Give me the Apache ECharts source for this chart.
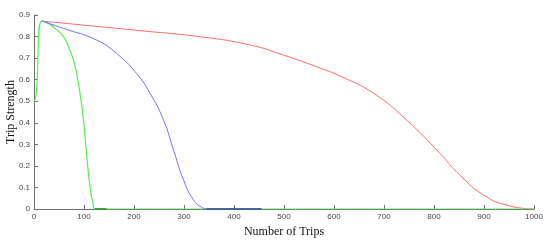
<!DOCTYPE html>
<html>
<head>
<meta charset="utf-8">
<script src="https://cdn.jsdelivr.net/npm/echarts@6/dist/echarts.min.js"></script>
<style>
  html, body { margin: 0; padding: 0; background: #fff; }
  #chart { width: 550px; height: 242px; }
</style>
</head>
<body>
<div id="chart"></div>
<script>
// 数据
const greenTrips = [0, 4, 16, 30, 42, 59, 69, 79, 86, 92, 99, 105, 112, 118, 122, 145, 1000]
const greenStrength = [0.50, 0.524, 0.872, 0.86, 0.838, 0.80, 0.753, 0.69, 0.62, 0.537, 0.413, 0.258, 0.103, 0.025, 0.0, 0.0, 0.0]

const blueTrips = [16, 59, 125, 165, 205, 232, 259, 279, 299, 319, 335, 345]
const blueStrength = [0.872, 0.838, 0.784, 0.722, 0.629, 0.537, 0.413, 0.274, 0.135, 0.042, 0.008, 0.0]
const blueTailTrips = [345, 455]
const blueTailStrength = [0, 0]

const redTrips = [16, 100, 200, 332, 432, 499, 565, 612, 679, 745, 812, 845, 899, 952, 1000]
const redStrength = [0.872, 0.853, 0.83, 0.799, 0.761, 0.714, 0.66, 0.617, 0.537, 0.413, 0.258, 0.173, 0.065, 0.014, 0.0]

const darkGreenTrips = [122, 145]
const darkGreenStrength = [0, 0]

const xTicks = [0, 100, 200, 300, 400, 500, 600, 700, 800, 900, 1000]
const yTicks = [0, 0.1, 0.2, 0.3, 0.4, 0.5, 0.6, 0.7, 0.8, 0.9]

const pairs = (xs, ys) => xs.map((x, i) => [x, ys[i]])

const chart = echarts.init(document.getElementById('chart'))

const axisStyle = {
  axisLine: { show: true, lineStyle: { color: '#6e6e6e', width: 1 } },
  axisTick: { show: true, inside: true, length: 4, lineStyle: { color: '#6e6e6e' } },
  axisLabel: { color: '#444', fontSize: 8, fontFamily: 'Liberation Sans, Arial, sans-serif' },
  splitLine: { show: false }
}

const lineSeries = (data, color, width, z) => ({
  type: 'line',
  data: data,
  showSymbol: false,
  smooth: 0.5,
  lineStyle: { color: color, width: width },
  z: z,
  animation: false
})

chart.setOption({
  animation: false,
  grid: { left: 34, right: 16, top: 15, bottom: 33, outerBoundsMode: 'none', containLabel: false },
  xAxis: {
    type: 'value',
    min: 0,
    max: 1000,
    interval: 100,
    name: 'Number of Trips',
    nameLocation: 'middle',
    nameGap: 17,
    nameMoveOverlap: false,
    nameTextStyle: { color: '#111', fontSize: 12, fontFamily: 'Liberation Serif, Times New Roman, serif' },
    ...axisStyle,
    axisLabel: { ...axisStyle.axisLabel, margin: 4, formatter: v => xTicks.includes(v) ? String(v) : '' }
  },
  yAxis: {
    type: 'value',
    min: 0,
    max: 0.9,
    interval: 0.1,
    name: 'Trip Strength',
    nameLocation: 'middle',
    nameGap: 17,
    nameMoveOverlap: false,
    nameTextStyle: { color: '#111', fontSize: 12, fontFamily: 'Liberation Serif, Times New Roman, serif' },
    ...axisStyle,
    axisLabel: {
      ...axisStyle.axisLabel,
      margin: 4,
      formatter: v => {
        const t = yTicks.find(y => Math.abs(y - v) < 1e-6)
        return t === undefined ? '' : (t === 0 ? '0' : t.toFixed(1))
      }
    }
  },
  series: [
    lineSeries(pairs(redTrips, redStrength), '#ff6a6a', 1, 2),
    lineSeries(pairs(greenTrips, greenStrength), '#55ee55', 1.2, 3),
    lineSeries(pairs(darkGreenTrips, darkGreenStrength), '#1f8a1f', 1.5, 4),
    lineSeries(pairs(blueTrips, blueStrength), '#7070ff', 1, 5),
    lineSeries(pairs(blueTailTrips, blueTailStrength), '#2a3aa0', 1.5, 6)
  ]
})
</script>
</body>
</html>
